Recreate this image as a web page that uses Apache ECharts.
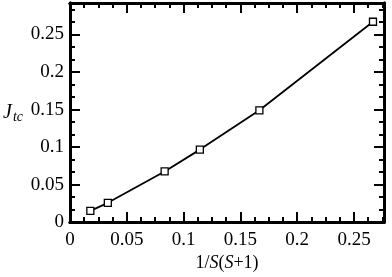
<!DOCTYPE html>
<html>
<head>
<meta charset="utf-8">
<script src="https://cdn.jsdelivr.net/npm/echarts@6/dist/echarts.min.js"></script>
<style>
  html, body { margin: 0; padding: 0; background: #fff; }
  #main { width: 392px; height: 277px; }
</style>
</head>
<body>
<div id="main"></div>
<script>
// 1/S(S+1) for S = 7, 5, 3, 2.5, 2, 1.5
const xVals = [0.0179, 0.0333, 0.0833, 0.1143, 0.1667, 0.2667];
const jtc = [0.015, 0.0257, 0.0675, 0.0966, 0.149, 0.267];

const XMAX = 0.2764;
const YMAX = 0.292;
const FONT = 'Liberation Serif';

function axis(pos, interval, len, max, extra) {
  return Object.assign({
    type: 'value',
    position: pos,
    min: 0,
    max: max,
    interval: interval,
    axisLine: { show: true, onZero: false, lineStyle: { color: '#000', width: 3 } },
    axisTick: { show: true, inside: true, length: len, lineStyle: { color: '#000', width: 2 } },
    axisLabel: { show: false },
    splitLine: { show: false }
  }, extra || {});
}

const labelStyle = {
  show: true, color: '#000', fontFamily: FONT, fontSize: 19,
  showMaxLabel: false, formatter: v => String(+v.toFixed(3))
};

const myChart = echarts.init(document.getElementById('main'));
myChart.setOption({
  animation: false,
  backgroundColor: '#fff',
  grid: { left: 70, right: 8, top: 3, bottom: 52 },
  xAxis: [
    axis('bottom', 0.05, 10, XMAX, {
      axisLabel: Object.assign({ margin: 8 }, labelStyle),
      name: '1/{i|S}({i|S}+1)',
      nameLocation: 'middle',
      nameGap: 26,
      nameTextStyle: {
        color: '#000', fontFamily: FONT, fontSize: 18,
        rich: { i: { fontStyle: 'italic', fontFamily: FONT, fontSize: 18, color: '#000' } }
      }
    }),
    axis('bottom', 0.0125, 5, XMAX),
    axis('top', 0.05, 10, XMAX),
    axis('top', 0.0125, 5, XMAX)
  ],
  yAxis: [
    axis('left', 0.05, 10, YMAX, {
      axisLabel: Object.assign({ margin: 6 }, labelStyle),
      name: '{j|J}{s|tc}',
      nameLocation: 'middle',
      nameRotate: 0,
      nameGap: 47,
      nameTextStyle: {
        rich: {
          j: { fontStyle: 'italic', fontFamily: FONT, fontSize: 20, color: '#000' },
          s: { fontStyle: 'italic', fontFamily: FONT, fontSize: 14, color: '#000', padding: [10, 0, 0, 1] }
        }
      }
    }),
    axis('left', 0.05 / 3, 5, YMAX),
    axis('right', 0.05, 10, YMAX),
    axis('right', 0.05 / 3, 5, YMAX)
  ],
  series: [{
    type: 'line',
    xAxisIndex: 0,
    yAxisIndex: 0,
    data: xVals.map((x, i) => [x, jtc[i]]),
    symbol: 'rect',
    symbolSize: 7,
    lineStyle: { color: '#000', width: 1.8 },
    itemStyle: { color: '#fff', borderColor: '#000', borderWidth: 1.3 }
  }]
});
</script>
</body>
</html>
